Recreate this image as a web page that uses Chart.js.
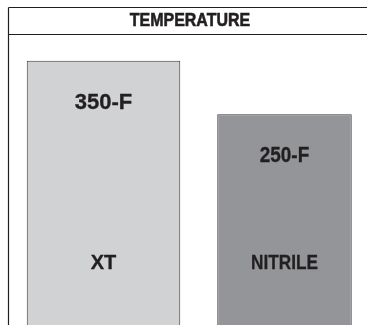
<!DOCTYPE html>
<html>
<head>
<meta charset="utf-8">
<script src="https://cdn.jsdelivr.net/npm/chart.js@4/dist/chart.umd.min.js"></script>
<style>
  html, body { margin: 0; padding: 0; background: #fff; overflow: hidden; }
  #wrap { width: 376px; height: 325px; }
</style>
</head>
<body>
<div id="wrap"><canvas id="temp_chart" width="376" height="325"></canvas></div>
<script>
// max service temperature (deg F) per seal material
const materials = ['XT', 'NITRILE'];
const temps = [350, 250];
const fills = ['#d1d2d4', '#939598'];
const barWidths = [0.848, 0.743];
const labelStretch = [1, 0.86];   // nitrile labels are set condensed
const titleText = 'TEMPERATURE';

const ink = '#231f20';
const family = '"Liberation Sans", Arial, Helvetica, sans-serif';
const yMin = -144;
const yMax = 398;

// one dataset per material so each bar keeps its own width
const datasets = materials.map((m, i) => ({
  label: m,
  data: temps.map((t, j) => j === i ? t : null),
  backgroundColor: fills[i],
  borderColor: '#3a3a3c',
  borderWidth: 1,
  borderSkipped: 'start',
  barPercentage: barWidths[i],
  categoryPercentage: 1,
  base: yMin,
  grouped: false
}));

// text squeezed horizontally (no narrow face installed)
function squeezedText(c, txt, x, y, size, sx, heavy) {
  c.save();
  c.translate(x, y);
  c.scale(sx, 1);
  c.font = 'bold ' + size + 'px ' + family;
  c.fillText(txt, 0, 0);
  if (heavy) {
    c.lineWidth = heavy;
    c.strokeStyle = ink;
    c.strokeText(txt, 0, 0);
  }
  c.restore();
}

// outer frame, header rule and heading
const framePlugin = {
  id: 'frame',
  afterDraw(chart) {
    const c = chart.ctx;
    c.save();
    c.strokeStyle = ink;
    c.lineWidth = 1.2;
    c.beginPath();
    c.moveTo(8.5, 7.5); c.lineTo(chart.width, 7.5);
    c.moveTo(8.5, 7.5); c.lineTo(8.5, chart.height);
    c.moveTo(8.5, 34.5); c.lineTo(chart.width, 34.5);
    c.stroke();
    c.fillStyle = ink;
    c.textAlign = 'center';
    c.textBaseline = 'middle';
    squeezedText(c, titleText, 190, 21, 19, 0.84, 0.6);
    c.restore();
  }
};

// value text near the top of each bar, material name near the bottom
const barLabels = {
  id: 'barLabels',
  afterDatasetsDraw(chart) {
    const c = chart.ctx;
    c.save();
    c.fillStyle = ink;
    c.textAlign = 'center';
    c.textBaseline = 'middle';
    chart.data.datasets.forEach((ds, i) => {
      const meta = chart.getDatasetMeta(i);
      meta.data.forEach((bar, j) => {
        if (ds.data[j] == null) return;
        squeezedText(c, ds.data[j] + '-F', bar.x, bar.y + 42, 22, labelStretch[i], 0.3);
        squeezedText(c, materials[j], bar.x, chart.chartArea.bottom - 62, 20, labelStretch[i], 0.3);
      });
    });
    c.restore();
  }
};

const config = {
  type: 'bar',
  data: { labels: materials, datasets: datasets },
  options: {
    responsive: false,
    devicePixelRatio: 1,
    animation: false,
    layout: { padding: { left: 13, right: 1, top: 35, bottom: 0 } },
    plugins: {
      legend: { display: false },
      tooltip: { enabled: false },
      title: { display: false }
    },
    scales: {
      x: { display: false },
      y: { display: false, min: yMin, max: yMax }
    }
  },
  plugins: [framePlugin, barLabels]
};

var tempChart = new Chart(document.getElementById('temp_chart'), config);
</script>
</body>
</html>
